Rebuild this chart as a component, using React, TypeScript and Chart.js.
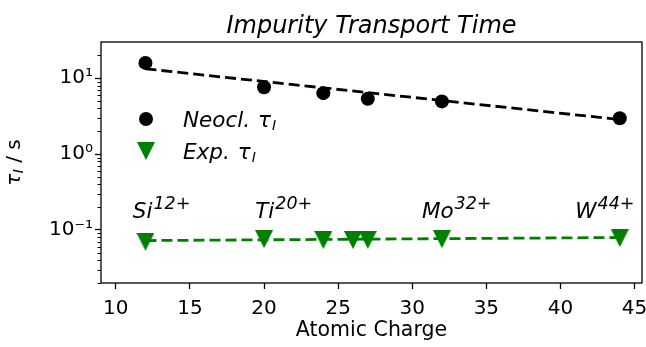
import React, { useEffect, useRef } from "react";
import { Chart, registerables } from "chart.js";
Chart.register(...registerables);

// ---------------- data ----------------
const neoclCharge = [12, 20, 24, 27, 32, 44];
const neoclTau = [15.9, 7.6, 6.35, 5.35, 4.95, 2.96];
const neoclFitCharge = [12, 44];
const neoclFitTau = [13.3, 2.85];

const expCharge = [12, 20, 24, 26, 27, 32, 44];
const expTau = [0.0697, 0.0758, 0.0736, 0.0736, 0.074, 0.0758, 0.078];
const expFitCharge = [12, 44];
const expFitTau = [0.0725, 0.0795];

const ionNames = ["Si", "Ti", "Mo", "W"];
const ionCharges = ["12+", "20+", "32+", "44+"];
const ionLabelCharge = [11.15, 19.4, 30.65, 41.0];
const ionLabelTau = [0.143, 0.143, 0.143, 0.143];

const xTicks = [10, 15, 20, 25, 30, 35, 40, 45];
const xTickLabels = ["10", "15", "20", "25", "30", "35", "40", "45"];
const yMajorTicks = [0.1, 1, 10];
const yMajorLabels = ["10\u207B\u00B9", "10\u2070", "10\u00B9"];
const yMinorTicks = [
  0.02, 0.03, 0.04, 0.05, 0.06, 0.07, 0.08, 0.09,
  0.2, 0.3, 0.4, 0.5, 0.6, 0.7, 0.8, 0.9,
  2, 3, 4, 5, 6, 7, 8, 9, 20,
];

const titleText = "Impurity Transport Time";
const xLabelText = "Atomic Charge";
const legendNames = ["Neocl.", "Exp."];

// ---------------- style ----------------
const FONT = "'DejaVu Sans', sans-serif";
const GREEN = "#008000";
const BLACK = "#000000";
const TICK_FS = 20;
const MATH_FS = 21.5;

function makeTriangle(color: string, size: number) {
  const c = document.createElement("canvas");
  c.width = size;
  c.height = size;
  const g = c.getContext("2d")!;
  g.fillStyle = color;
  g.beginPath();
  g.moveTo(0, 0);
  g.lineTo(size, 0);
  g.lineTo(size / 2, size);
  g.closePath();
  g.fill();
  return c;
}

function isMajor(v: number) {
  return yMajorTicks.some((m) => Math.abs(m - v) / m < 1e-9);
}

type Part = { text: string; size: number; italic: boolean; dy: number; gap?: number };

function drawParts(ctx: CanvasRenderingContext2D, parts: Part[], x: number, y: number) {
  let cx = x;
  for (const p of parts) {
    cx += p.gap || 0;
    ctx.font = `${p.italic ? "italic " : ""}${p.size}px ${FONT}`;
    ctx.fillText(p.text, cx, y + p.dy);
    cx += ctx.measureText(p.text).width;
  }
  return cx - x;
}

function measureParts(ctx: CanvasRenderingContext2D, parts: Part[]) {
  let w = 0;
  for (const p of parts) {
    w += p.gap || 0;
    ctx.font = `${p.italic ? "italic " : ""}${p.size}px ${FONT}`;
    w += ctx.measureText(p.text).width;
  }
  return w;
}

export default function App() {
  const ref = useRef<HTMLCanvasElement>(null);

  useEffect(() => {
    document.body.style.margin = "0";
    document.body.style.overflow = "hidden";
    const canvas = ref.current!;
    const tri = makeTriangle(GREEN, 18);

    const overlay = {
      id: "overlay",
      afterDraw(chart: any) {
        const ctx: CanvasRenderingContext2D = chart.ctx;
        const { left, right, top, bottom } = chart.chartArea;
        const xs = chart.scales.x;
        const ys = chart.scales.y;
        ctx.save();

        // frame
        ctx.strokeStyle = BLACK;
        ctx.lineWidth = 1.3;
        ctx.strokeRect(left, top, right - left, bottom - top);

        // minor y ticks
        ctx.lineWidth = 1;
        ctx.beginPath();
        for (const v of yMinorTicks) {
          const py = Math.round(ys.getPixelForValue(v)) + 0.5;
          if (py < top - 0.5 || py > bottom + 0.5) continue;
          ctx.moveTo(left, py);
          ctx.lineTo(left - 3.5, py);
        }
        ctx.stroke();

        ctx.fillStyle = BLACK;

        // x tick labels
        ctx.textAlign = "center";
        ctx.textBaseline = "alphabetic";
        ctx.font = `${TICK_FS}px ${FONT}`;
        xTicks.forEach((v, i) => {
          ctx.fillText(xTickLabels[i], xs.getPixelForValue(v), bottom + 30.5);
        });

        ctx.textAlign = "left";

        // ion annotations
        for (let i = 0; i < ionNames.length; i++) {
          const px = xs.getPixelForValue(ionLabelCharge[i]);
          const py = ys.getPixelForValue(ionLabelTau[i]);
          drawParts(ctx, [
            { text: ionNames[i], size: MATH_FS, italic: true, dy: 0 },
            { text: ionCharges[i], size: 17.5, italic: true, dy: -9, gap: 1 },
          ], px, py);
        }

        // legend
        const lx = left + 45;
        const ly1 = top + 77;
        const ly2 = top + 109;
        ctx.fillStyle = BLACK;
        ctx.beginPath();
        ctx.arc(lx, ly1, 7, 0, Math.PI * 2);
        ctx.fill();
        ctx.drawImage(tri, lx - 9, ly2 - 9);
        const tx = left + 82;
        drawParts(ctx, [
          { text: legendNames[0], size: MATH_FS, italic: true, dy: 0 },
          { text: "\u03C4", size: MATH_FS, italic: true, dy: 0, gap: 8 },
          { text: "I", size: 14, italic: true, dy: 3, gap: 1 },
        ], tx, ly1 + 7.5);
        drawParts(ctx, [
          { text: legendNames[1], size: MATH_FS, italic: true, dy: 0 },
          { text: "\u03C4", size: MATH_FS, italic: true, dy: 0, gap: 8 },
          { text: "I", size: 14, italic: true, dy: 3, gap: 1 },
        ], tx, ly2 + 7.5);

        // y-axis label
        const yl: Part[] = [
          { text: "\u03C4", size: TICK_FS, italic: true, dy: 0 },
          { text: "I", size: 14, italic: true, dy: 3, gap: 0.5 },
          { text: " / s", size: TICK_FS, italic: false, dy: 0 },
        ];
        const w = measureParts(ctx, yl);
        ctx.translate(20, (top + bottom) / 2);
        ctx.rotate(-Math.PI / 2);
        drawParts(ctx, yl, -w / 2, 0);

        ctx.restore();
      },
    };

    const chart = new Chart(canvas, {
      type: "scatter",
      data: {
        datasets: [
          {
            label: "Neocl.",
            data: neoclCharge.map((x, i) => ({ x, y: neoclTau[i] })),
            backgroundColor: BLACK,
            borderColor: BLACK,
            pointRadius: 7,
            pointBorderWidth: 0,
            pointStyle: "circle",
            showLine: false,
            order: 0,
          },
          {
            label: "Exp.",
            data: expCharge.map((x, i) => ({ x, y: expTau[i] })),
            backgroundColor: GREEN,
            borderColor: GREEN,
            pointStyle: tri as any,
            pointRadius: 9,
            showLine: false,
            order: 1,
          },
          {
            label: "Neocl. fit",
            data: neoclFitCharge.map((x, i) => ({ x, y: neoclFitTau[i] })),
            borderColor: BLACK,
            borderWidth: 2.8,
            borderDash: [11, 5],
            pointRadius: 0,
            showLine: true,
            fill: false,
            order: 2,
          },
          {
            label: "Exp. fit",
            data: expFitCharge.map((x, i) => ({ x, y: expFitTau[i] })),
            borderColor: GREEN,
            borderWidth: 2.8,
            borderDash: [11, 5],
            pointRadius: 0,
            showLine: true,
            fill: false,
            order: 3,
          },
        ] as any,
      },
      options: {
        responsive: false,
        animation: false,
        layout: { padding: { left: 0, right: 0, top: 0, bottom: 0 } },
        plugins: {
          legend: { display: false },
          tooltip: { enabled: false },
          title: {
            display: true,
            text: titleText,
            fullSize: false,
            color: BLACK,
            font: { family: FONT, size: 24, style: "italic", weight: "normal" },
            padding: { top: 12, bottom: 1.2 },
          },
        },
        scales: {
          x: {
            type: "linear",
            min: 9,
            max: 45.5,
            afterBuildTicks: (s: any) => {
              s.ticks = xTicks.map((v) => ({ value: v }));
            },
            afterFit: (s: any) => {
              s.height = 64;
            },
            ticks: {
              display: false,
              autoSkip: false,
              maxRotation: 0,
            },
            grid: {
              display: true,
              drawOnChartArea: false,
              drawTicks: true,
              tickLength: 6,
              tickWidth: 1.3,
              tickColor: BLACK,
            },
            border: { display: false },
            title: {
              display: true,
              text: xLabelText,
              color: BLACK,
              font: { family: FONT, size: 20.5 },
              padding: { top: 0, bottom: 4 },
            },
          },
          y: {
            type: "logarithmic",
            min: 0.02,
            max: 30,
            afterBuildTicks: (s: any) => {
              const all = [...yMinorTicks, ...yMajorTicks].sort((a, b) => a - b);
              s.ticks = all.map((v) => ({ value: v, major: isMajor(v) }));
            },
            afterFit: (s: any) => {
              s.width = 101;
              s.paddingTop = 0;
              s.paddingBottom = 0;
            },
            ticks: {
              autoSkip: false,
              padding: 2,
              color: BLACK,
              font: { family: FONT, size: TICK_FS },
              callback: (v: any) => {
                const idx = yMajorTicks.findIndex((m) => Math.abs(m - v) / m < 1e-9);
                return idx >= 0 ? yMajorLabels[idx] : "";
              },
            },
            grid: {
              display: true,
              drawOnChartArea: false,
              drawTicks: true,
              tickLength: 6,
              tickWidth: 1.3,
              tickColor: (c: any) =>
                c && c.tick && isMajor(c.tick.value) ? BLACK : "rgba(0,0,0,0)",
            },
            border: { display: false },
          },
        },
      } as any,
      plugins: [overlay],
    });

    return () => chart.destroy();
  }, []);

  return (
    <div style={{ width: 646, height: 347, overflow: "hidden" }}>
      <canvas ref={ref} width={652} height={347} style={{ display: "block" }} />
    </div>
  );
}
